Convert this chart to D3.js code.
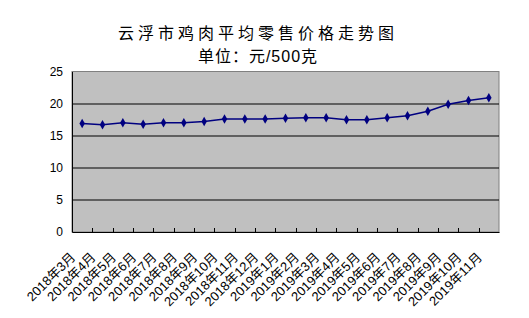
<!DOCTYPE html>
<html>
<head>
<meta charset="utf-8">
<script src="https://cdn.jsdelivr.net/npm/d3@7"></script>
<style>
  body { margin: 0; background: #fff; }
  svg { display: block; font-family: "Liberation Sans", "Noto Sans CJK SC", sans-serif; }
</style>
</head>
<body>
<div id="chart"></div>
<script>
// ===== data =====
const months = [
  '2018年3月', '2018年4月', '2018年5月', '2018年6月', '2018年7月', '2018年8月',
  '2018年9月', '2018年10月', '2018年11月', '2018年12月', '2019年1月', '2019年2月',
  '2019年3月', '2019年4月', '2019年5月', '2019年6月', '2019年7月', '2019年8月',
  '2019年9月', '2019年10月', '2019年11月'
];
const prices = [16.9, 16.7, 17.0, 16.8, 17.0, 17.0, 17.2, 17.6, 17.6, 17.6, 17.7,
  17.8, 17.8, 17.5, 17.5, 17.8, 18.1, 18.8, 19.9, 20.5, 20.9];
const yTicks = [0, 5, 10, 15, 20, 25];
const titleLines = ['云浮市鸡肉平均零售价格走势图', '单位：元/500克'];

// ===== layout =====
const W = 529, H = 318;
const margin = { top: 71.5, right: 30, bottom: 86, left: 72 };
const width = W - margin.left - margin.right;
const height = H - margin.top - margin.bottom;

const svg = d3.select('#chart')
  .append('svg')
  .attr('width', W)
  .attr('height', H);

svg.append('g')
  .selectAll('text')
  .data(titleLines)
  .enter().append('text')
  .attr('x', 258)
  .attr('y', (d, i) => 39 + i * 23)
  .attr('text-anchor', 'middle')
  .attr('font-size', 16)
  .attr('letter-spacing', (d, i) => i === 0 ? 4 : 1)
  .attr('fill', '#000')
  .text(d => d);

const g = svg.append('g')
  .attr('transform', `translate(${margin.left},${margin.top})`);

const x = d3.scaleBand()
  .domain(months)
  .range([0, width]);

const y = d3.scaleLinear()
  .domain([0, 25])
  .range([height, 0]);

// plot area
g.append('rect')
  .attr('width', width)
  .attr('height', height)
  .attr('fill', '#c0c0c0')
  .attr('stroke', '#808080');

// gridlines
g.append('g')
  .selectAll('line')
  .data(yTicks.filter(d => d > 0 && d < 25))
  .enter().append('line')
  .attr('x1', 0)
  .attr('x2', width)
  .attr('y1', d => Math.round(y(d)) + 0.5)
  .attr('y2', d => Math.round(y(d)) + 0.5)
  .attr('stroke', '#000')
  .attr('stroke-width', 1);

// y axis
g.append('g')
  .call(d3.axisLeft(y).tickValues(yTicks).tickSize(0).tickPadding(9))
  .call(a => a.select('.domain').attr('stroke', '#000'))
  .selectAll('text')
  .attr('font-size', 12)
  .attr('fill', '#000');

// x axis
const xAxis = g.append('g')
  .attr('transform', `translate(0,${height})`)
  .call(d3.axisBottom(x).tickSize(0).tickFormat(() => ''));
xAxis.select('.domain').attr('stroke', '#000');

g.append('g')
  .selectAll('line')
  .data(months.slice(1))
  .enter().append('line')
  .attr('x1', d => Math.round(x(d)) + 0.5)
  .attr('x2', d => Math.round(x(d)) + 0.5)
  .attr('y1', height)
  .attr('y2', height - 4)
  .attr('stroke', '#000');

g.append('g')
  .selectAll('text')
  .data(months)
  .enter().append('text')
  .attr('transform', d => `translate(${x(d) + x.bandwidth() / 2 - 6},${height + 26}) rotate(-45)`)
  .attr('text-anchor', 'end')
  .attr('font-size', 13)
  .attr('fill', '#000')
  .text(d => d);

// line + markers
const line = d3.line()
  .x((d, i) => x(months[i]) + x.bandwidth() / 2)
  .y(d => y(d));

g.append('path')
  .datum(prices)
  .attr('d', line)
  .attr('fill', 'none')
  .attr('stroke', '#000080')
  .attr('stroke-width', 1.5);

g.append('g')
  .selectAll('path')
  .data(prices)
  .enter().append('path')
  .attr('transform', (d, i) => `translate(${x(months[i]) + x.bandwidth() / 2},${y(d)})`)
  .attr('d', d3.symbol(d3.symbolDiamond, 26)())
  .attr('fill', '#000080');
</script>
</body>
</html>
